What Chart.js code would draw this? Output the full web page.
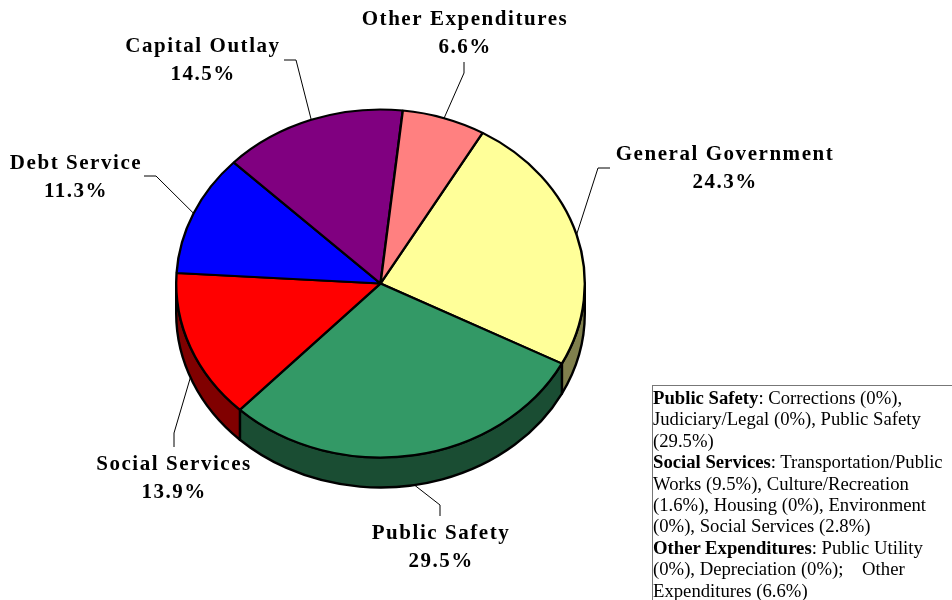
<!DOCTYPE html>
<html>
<head>
<meta charset="utf-8">
<title>Expenditures</title>
<script src="https://cdn.jsdelivr.net/npm/chart.js@4"></script>
<style>
    html, body { margin: 0; padding: 0; background: #fff; overflow: hidden; }
    #grafico { position: absolute; left: 0; top: 0; }
    #nota {
        position: absolute; left: 652px; top: 385px; width: 300px; height: 215px;
        box-sizing: border-box; border-left: 1px solid #777; border-top: 1px solid #777;
        padding-top: 1px; overflow: hidden; white-space: nowrap;
        font: 18.7px/21.4px "Liberation Serif", serif; color: #000;
    }
</style>
</head>
<body>
<canvas id="grafico" width="952" height="600"></canvas>
<div id="nota"></div>
<script>
// datos de la grafica
const categorias = ["General Government", "Public Safety", "Social Services", "Debt Service", "Capital Outlay", "Other Expenditures"];
const valores = [24.3, 29.5, 13.9, 11.3, 14.5, 6.6];
const colores = ["#FFFF99", "#339966", "#FF0000", "#0000FF", "#800080", "#FF8080"];
const coloresLado = ["#80804D", "#1A4D33", "#800000", "#000080", "#400040", "#804040"];

// lineas de la nota, [texto, negrita]
const nota = [
    [["Public Safety", 1], [": Corrections (0%),", 0]],
    [["Judiciary/Legal (0%), Public Safety", 0]],
    [["(29.5%)", 0]],
    [["Social Services", 1], [": Transportation/Public", 0]],
    [["Works (9.5%), Culture/Recreation", 0]],
    [["(1.6%), Housing (0%), Environment", 0]],
    [["(0%), Social Services (2.8%)", 0]],
    [["Other Expenditures", 1], [": Public Utility", 0]],
    [["(0%), Depreciation (0%);\u00A0\u00A0\u00A0\u00A0Other", 0]],
    [["Expenditures (6.6%)", 0]]
];

// geometria del pastel en perspectiva
const ALTO_ELIPSE = 175 / 205.5;
const GROSOR = 30;

// centro de cada etiqueta y codos de su linea guia, en el mismo orden que categorias
const etiquetas = [
    { x: 725, y: 155, guia: [[598, 168], [610, 168]] },
    { x: 441, y: 534, guia: [[440, 505], [440, 516]] },
    { x: 174, y: 465, guia: [[174, 433], [174, 447]] },
    { x: 76, y: 164, guia: [[156, 176], [144, 176]] },
    { x: 203, y: 47, guia: [[296, 60], [284, 60]] },
    { x: 465, y: 20, guia: [[464, 73], [464, 62]] }
];

// aplasta el pastel a una elipse y dibuja el canto por debajo
const pastel3D = {
    id: "pastel3D",
    beforeDatasetsDraw(chart) {
        const ctx = chart.ctx;
        const arcos = chart.getDatasetMeta(0).data;
        const cx = arcos[0].x, cy = arcos[0].y;
        const rx = arcos[0].outerRadius, ry = rx * ALTO_ELIPSE;

        ctx.save();
        ctx.lineWidth = 2.4;
        ctx.strokeStyle = "#000";
        ctx.lineJoin = "round";
        arcos.forEach((arco, i) => {
            // solo la parte frontal (0 a PI) del arco es visible
            for (const vuelta of [0, 2 * Math.PI]) {
                const a = Math.max(arco.startAngle - vuelta, 0);
                const b = Math.min(arco.endAngle - vuelta, Math.PI);
                if (b <= a) continue;
                ctx.beginPath();
                ctx.ellipse(cx, cy + GROSOR, rx, ry, 0, a, b);
                ctx.ellipse(cx, cy, rx, ry, 0, b, a, true);
                ctx.closePath();
                ctx.fillStyle = coloresLado[i];
                ctx.fill();
                ctx.stroke();
            }
        });
        ctx.restore();

        ctx.save();
        ctx.translate(cx, cy);
        ctx.scale(1, ALTO_ELIPSE);
        ctx.translate(-cx, -cy);
    },
    afterDatasetsDraw(chart) {
        const ctx = chart.ctx;
        ctx.restore();

        const arcos = chart.getDatasetMeta(0).data;
        arcos.forEach((arco, i) => {
            const medio = (arco.startAngle + arco.endAngle) / 2;
            const px = arco.x + arco.outerRadius * Math.cos(medio);
            let py = arco.y + arco.outerRadius * ALTO_ELIPSE * Math.sin(medio);
            if (Math.sin(medio) > 0 && Math.cos(medio) < 0.9) py += GROSOR;

            const e = etiquetas[i];
            ctx.save();
            ctx.strokeStyle = "#000";
            ctx.lineWidth = 1;
            ctx.beginPath();
            ctx.moveTo(px, py);
            e.guia.forEach(p => ctx.lineTo(p[0], p[1]));
            ctx.stroke();

            ctx.fillStyle = "#000";
            ctx.font = 'bold 21px "Liberation Serif", serif';
            ctx.textAlign = "center";
            ctx.textBaseline = "middle";
            ctx.letterSpacing = "1.55px";
            ctx.fillText(categorias[i], e.x, e.y);
            ctx.letterSpacing = "1.5px";
            ctx.fillText(valores[i].toFixed(1) + "%", e.x, e.y + 28);
            ctx.restore();
        });
    }
};

new Chart(document.getElementById("grafico"), {
    type: "pie",
    data: {
        labels: categorias,
        datasets: [{
            data: valores,
            backgroundColor: colores,
            borderColor: "#000",
            borderWidth: 2.4,
            borderAlign: "center"
        }]
    },
    options: {
        responsive: false,
        animation: false,
        rotation: 30,
        layout: { padding: { left: 175, right: 366, top: 78, bottom: 111 } },
        plugins: { legend: { display: false }, tooltip: { enabled: false } }
    },
    plugins: [pastel3D]
});

const cajaNota = document.getElementById("nota");
nota.forEach(linea => {
    const fila = document.createElement("div");
    linea.forEach(([texto, negrita]) => {
        const trozo = document.createElement(negrita ? "b" : "span");
        trozo.textContent = texto;
        fila.appendChild(trozo);
    });
    cajaNota.appendChild(fila);
});
</script>
</body>
</html>
